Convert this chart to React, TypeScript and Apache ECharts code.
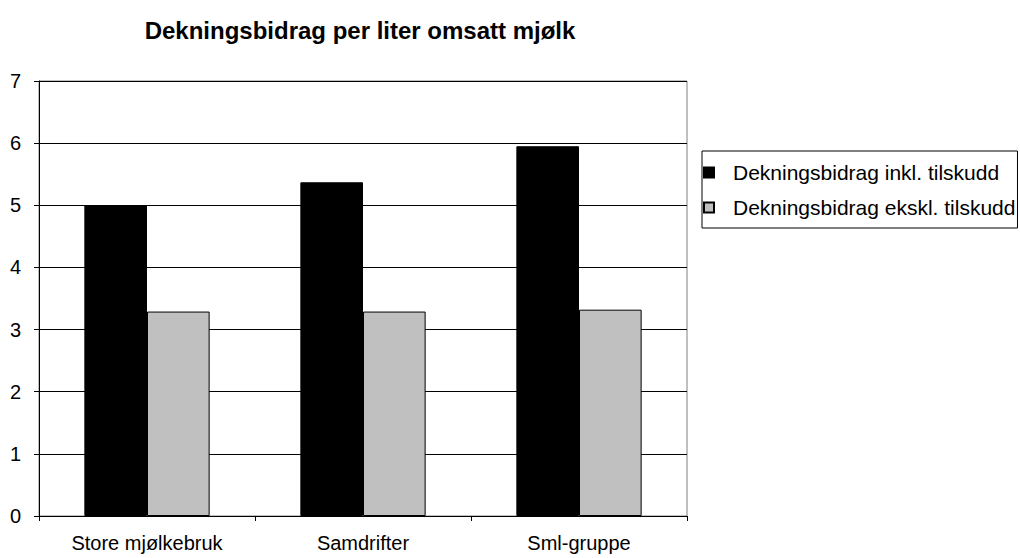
import React, { useEffect, useRef } from "react";
import * as echarts from "echarts";

const categories = ["Store mjølkebruk", "Samdrifter", "Sml-gruppe"];
const seriesNames = ["Dekningsbidrag inkl. tilskudd", "Dekningsbidrag ekskl. tilskudd"];
const inklValues = [5.0, 5.37, 5.95];
const eksklValues = [3.29, 3.29, 3.32];
const title = "Dekningsbidrag per liter omsatt mjølk";

export default function App() {
  const ref = useRef<HTMLDivElement>(null);
  useEffect(() => {
    if (!ref.current) return;
    const chart = echarts.init(ref.current, null, { renderer: "svg" });
    const font = "'Liberation Sans', Arial, sans-serif";
    chart.setOption({
      animation: false,
      backgroundColor: "#ffffff",
      title: {
        text: title,
        left: 360,
        textAlign: "center",
        top: 18,
        padding: 0,
        textStyle: { fontFamily: font, fontSize: 24, fontWeight: "bold", color: "#000" },
      },
      grid: {
        left: 39,
        top: 81,
        right: 333,
        bottom: 42,
        show: true,
        borderColor: "#808080",
        borderWidth: 1,
        backgroundColor: "transparent",
      },
      legend: {
        orient: "vertical",
        left: 702,
        top: 151,
        itemWidth: 10,
        itemHeight: 10,
        itemGap: 14,
        padding: [11, 2, 10, 1],
        borderColor: "#000",
        borderWidth: 1,
        icon: "rect",
        data: seriesNames,
        textStyle: { fontFamily: font, fontSize: 21, color: "#000", padding: [0, 0, 0, 14] },
      },
      xAxis: {
        type: "category",
        data: categories,
        axisLine: { lineStyle: { color: "#000", width: 1 } },
        axisTick: { show: true, length: 5, lineStyle: { color: "#000" } },
        axisLabel: { fontFamily: font, fontSize: 20, color: "#000", margin: 17 },
        splitLine: { show: false },
      },
      yAxis: {
        type: "value",
        min: 0,
        max: 7,
        interval: 1,
        axisLine: { show: true, lineStyle: { color: "#000", width: 1 } },
        axisTick: { show: true, length: 5, lineStyle: { color: "#000" } },
        axisLabel: { fontFamily: font, fontSize: 20, color: "#000", margin: 18 },
        splitLine: { show: true, lineStyle: { color: "#000", width: 1 } },
      },
      series: [
        {
          name: seriesNames[0],
          type: "bar",
          data: inklValues,
          barGap: "0%",
          barCategoryGap: "42%",
          itemStyle: { color: "#000000", borderColor: "#000", borderWidth: 1 },
        },
        {
          name: seriesNames[1],
          type: "bar",
          data: eksklValues,
          itemStyle: { color: "#c0c0c0", borderColor: "#000", borderWidth: 1 },
        },
      ],
    });
    return () => chart.dispose();
  }, []);
  return <div ref={ref} style={{ width: 1020, height: 558, position: "absolute", left: 0, top: 0 }} />;
}
